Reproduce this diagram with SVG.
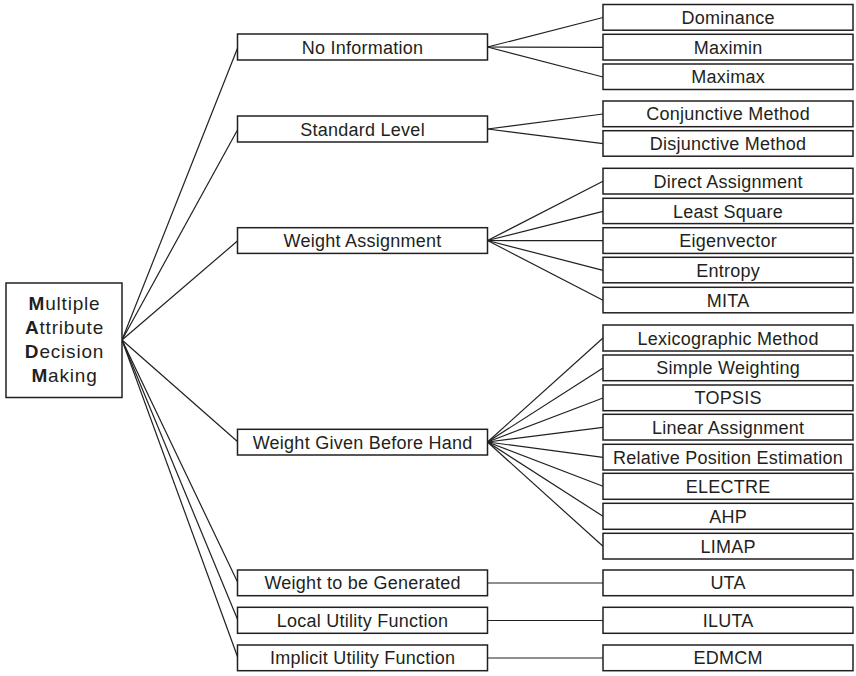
<svg xmlns="http://www.w3.org/2000/svg" width="856" height="676" viewBox="0 0 856 676">
<style>
.box{fill:#fff;stroke:#231f20;stroke-width:1.5}
.lbl{font-family:"Liberation Sans",Arial,sans-serif;font-size:18px;letter-spacing:0.25px;fill:#231f20;text-anchor:middle}
.root{font-family:"Liberation Sans",Arial,sans-serif;font-size:19px;letter-spacing:0.8px;fill:#231f20;text-anchor:middle}
.conn line{stroke:#231f20;stroke-width:1.2}
</style>
<rect width="856" height="676" fill="#fff"/>
<g class="conn" id="connectors">
<line x1="122" y1="340" x2="238" y2="47"/>
<line x1="122" y1="340" x2="238" y2="129"/>
<line x1="122" y1="340" x2="238" y2="240.5"/>
<line x1="122" y1="340" x2="238" y2="442"/>
<line x1="122" y1="340" x2="238" y2="583"/>
<line x1="122" y1="340" x2="238" y2="620.5"/>
<line x1="122" y1="340" x2="238" y2="658"/>
<line x1="487.5" y1="47" x2="603" y2="17.5"/>
<line x1="487.5" y1="47" x2="603" y2="47.3"/>
<line x1="487.5" y1="47" x2="603" y2="77"/>
<line x1="487.5" y1="129" x2="603" y2="114"/>
<line x1="487.5" y1="129" x2="603" y2="143.7"/>
<line x1="487.5" y1="240.5" x2="603" y2="181.3"/>
<line x1="487.5" y1="240.5" x2="603" y2="211.3"/>
<line x1="487.5" y1="240.5" x2="603" y2="240.7"/>
<line x1="487.5" y1="240.5" x2="603" y2="270.3"/>
<line x1="487.5" y1="240.5" x2="603" y2="300.3"/>
<line x1="487.5" y1="442" x2="603" y2="338"/>
<line x1="487.5" y1="442" x2="603" y2="368"/>
<line x1="487.5" y1="442" x2="603" y2="398"/>
<line x1="487.5" y1="442" x2="603" y2="427.3"/>
<line x1="487.5" y1="442" x2="603" y2="457.3"/>
<line x1="487.5" y1="442" x2="603" y2="486.3"/>
<line x1="487.5" y1="442" x2="603" y2="516.3"/>
<line x1="487.5" y1="442" x2="603" y2="546.3"/>
<line x1="487.5" y1="583" x2="603" y2="583"/>
<line x1="487.5" y1="620.5" x2="603" y2="620.5"/>
<line x1="487.5" y1="658" x2="603" y2="658"/>
</g>
<g id="root">
<rect class="box" x="6" y="283" width="116" height="114.5"/>
<text class="root" x="64.5" y="309.5"><tspan font-weight="bold">M</tspan>ultiple</text>
<text class="root" x="64.5" y="333.5"><tspan font-weight="bold">A</tspan>ttribute</text>
<text class="root" x="64.5" y="357.5"><tspan font-weight="bold">D</tspan>ecision</text>
<text class="root" x="64.5" y="381.5"><tspan font-weight="bold">M</tspan>aking</text>
</g>
<g id="no-information"><rect class="box" x="237.5" y="34" width="250" height="26"/><text class="lbl" x="362.6" y="53.5">No Information</text></g>
<g id="standard-level"><rect class="box" x="237.5" y="116" width="250" height="26"/><text class="lbl" x="362.6" y="135.5">Standard Level</text></g>
<g id="weight-assignment"><rect class="box" x="237.5" y="227.7" width="250" height="25.7"/><text class="lbl" x="362.6" y="247">Weight Assignment</text></g>
<g id="weight-given"><rect class="box" x="237.5" y="429.3" width="250" height="25.7"/><text class="lbl" x="362.6" y="448.6">Weight Given Before Hand</text></g>
<g id="weight-generated"><rect class="box" x="237.5" y="570" width="250" height="25.7"/><text class="lbl" x="362.6" y="589.4">Weight to be Generated</text></g>
<g id="local-utility"><rect class="box" x="237.5" y="607.3" width="250" height="26"/><text class="lbl" x="362.6" y="626.8">Local Utility Function</text></g>
<g id="implicit-utility"><rect class="box" x="237.5" y="645" width="250" height="25.7"/><text class="lbl" x="362.6" y="664.4">Implicit Utility Function</text></g>
<g id="dominance"><rect class="box" x="603" y="4.5" width="250" height="25.7"/><text class="lbl" x="728.1" y="23.9">Dominance</text></g>
<g id="maximin"><rect class="box" x="603" y="34.3" width="250" height="25.7"/><text class="lbl" x="728.1" y="53.7">Maximin</text></g>
<g id="maximax"><rect class="box" x="603" y="64" width="250" height="25.5"/><text class="lbl" x="728.1" y="83.3">Maximax</text></g>
<g id="conjunctive"><rect class="box" x="603" y="101" width="250" height="25.7"/><text class="lbl" x="728.1" y="120.4">Conjunctive Method</text></g>
<g id="disjunctive"><rect class="box" x="603" y="130.7" width="250" height="25.5"/><text class="lbl" x="728.1" y="150">Disjunctive Method</text></g>
<g id="direct-assignment"><rect class="box" x="603" y="168.3" width="250" height="25.7"/><text class="lbl" x="728.1" y="187.7">Direct Assignment</text></g>
<g id="least-square"><rect class="box" x="603" y="198.3" width="250" height="25.3"/><text class="lbl" x="728.1" y="217.5">Least Square</text></g>
<g id="eigenvector"><rect class="box" x="603" y="227.7" width="250" height="25.7"/><text class="lbl" x="728.1" y="247">Eigenvector</text></g>
<g id="entropy"><rect class="box" x="603" y="257.3" width="250" height="25.5"/><text class="lbl" x="728.1" y="276.6">Entropy</text></g>
<g id="mita"><rect class="box" x="603" y="287.3" width="250" height="25.5"/><text class="lbl" x="728.1" y="306.6">MITA</text></g>
<g id="lexicographic"><rect class="box" x="603" y="325" width="250" height="26"/><text class="lbl" x="728.1" y="344.5">Lexicographic Method</text></g>
<g id="simple-weighting"><rect class="box" x="603" y="355" width="250" height="25.7"/><text class="lbl" x="728.1" y="374.4">Simple Weighting</text></g>
<g id="topsis"><rect class="box" x="603" y="385" width="250" height="25.7"/><text class="lbl" x="728.1" y="404.4">TOPSIS</text></g>
<g id="linear-assignment"><rect class="box" x="603" y="414.3" width="250" height="25.7"/><text class="lbl" x="728.1" y="433.7">Linear Assignment</text></g>
<g id="relative-position"><rect class="box" x="603" y="444.3" width="250" height="25.7"/><text class="lbl" x="728.1" y="463.7">Relative Position Estimation</text></g>
<g id="electre"><rect class="box" x="603" y="473.3" width="250" height="26"/><text class="lbl" x="728.1" y="492.8">ELECTRE</text></g>
<g id="ahp"><rect class="box" x="603" y="503.3" width="250" height="26"/><text class="lbl" x="728.1" y="522.8">AHP</text></g>
<g id="limap"><rect class="box" x="603" y="533.3" width="250" height="25.7"/><text class="lbl" x="728.1" y="552.7">LIMAP</text></g>
<g id="uta"><rect class="box" x="603" y="570" width="250" height="25.7"/><text class="lbl" x="728.1" y="589.4">UTA</text></g>
<g id="iluta"><rect class="box" x="603" y="607.3" width="250" height="26"/><text class="lbl" x="728.1" y="626.8">ILUTA</text></g>
<g id="edmcm"><rect class="box" x="603" y="645" width="250" height="25.7"/><text class="lbl" x="728.1" y="664.4">EDMCM</text></g>
</svg>
